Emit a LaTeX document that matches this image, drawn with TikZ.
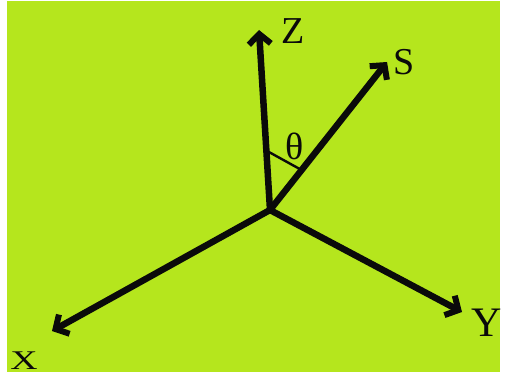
\documentclass[tikz,border=0pt]{standalone}
\usepackage{xcolor}
\usepackage{fontspec}
\setmainfont{Liberation Serif}
\usepackage{tikz}
\usetikzlibrary{arrows.meta, calc}
\definecolor{mylime}{RGB}{181,230,29}
\definecolor{myink}{RGB}{10,10,10}
\tikzset{
  axis/.style={-{Straight Barb[length=10pt,width=22pt,line width=6pt]}, line width=6.5pt, color=myink, line cap=round},
  lbl/.style={font=\fontsize{38}{38}\selectfont, color=myink, inner sep=0pt},
  anglemark/.style={line width=2.4pt, color=myink}
}
\begin{document}
\begin{tikzpicture}[x=1pt, y=-1pt]
  % page and background
  \fill[white] (0,0) rectangle (505,379);
  \fill[mylime] (7,1) rectangle (500,372);
  \useasboundingbox (0,0) rectangle (505,379);

  % axis ends
  \coordinate (origin) at (270,210);
  \coordinate (ztip) at (259,30);
  \coordinate (stip) at (387,62);
  \coordinate (ytip) at (462,312);
  \coordinate (xtip) at (52,331);

  % axes
  \draw[axis] (origin) -- (ztip);
  \draw[axis] (origin) -- (stip);
  \draw[axis] (origin) -- (ytip);
  \draw[axis] (origin) -- (xtip);

  % angle between Z and S
  \draw[anglemark] ($(origin)!0.33!(ztip)$) -- ($(origin)!0.27!(stip)$);
  \node[lbl] (theta) at (295,146) {θ};

  % axis labels
  \node[lbl] (zlbl) at (293,31) {Z};
  \node[lbl] (slbl) at (404,62) {S};
  \node[lbl, font=\fontsize{42}{42}\selectfont] (ylbl) at (487,323) {Y};
  \node[lbl, font=\fontsize{27}{27}\selectfont, xscale=1.4] (xlbl) at (24,361) {X};
\end{tikzpicture}
\end{document}
